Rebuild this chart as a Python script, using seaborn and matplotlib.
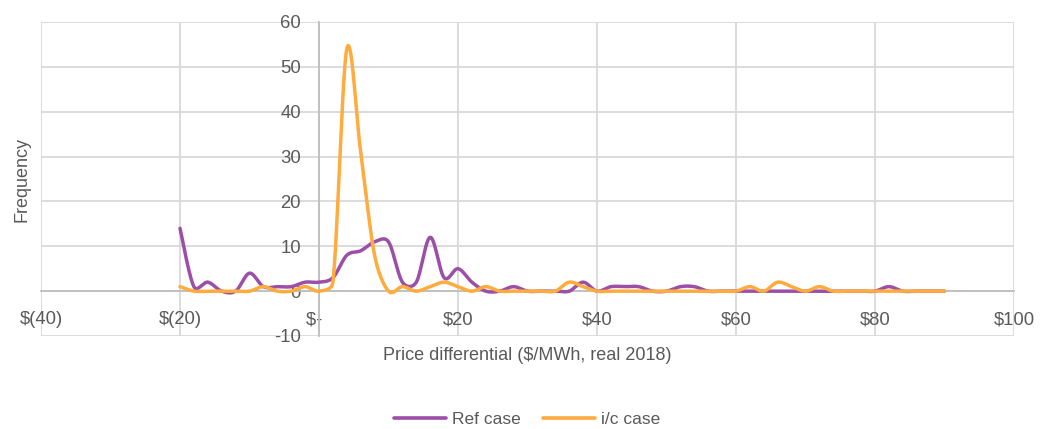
import numpy as np
import pandas as pd
import matplotlib
matplotlib.use("Agg")
import matplotlib.pyplot as plt
import seaborn as sns

# price differential bins ($/MWh)
price_bins = list(range(-20, 92, 2))

ref_case = [14, 1, 2, 0, 0, 4, 1, 1, 1, 2,
            2, 3, 8, 9, 11, 11, 2, 2, 12, 3,
            5, 2, 0, 0, 1, 0, 0, 0, 0, 2,
            0, 1, 1, 1, 0, 0, 1, 1, 0, 0,
            0, 0, 0, 0, 0, 0, 0, 0, 0, 0,
            0, 1, 0, 0, 0, 0]

ic_case = [1, 0, 0, 0, 0, 0, 1, 0, 0, 1,
           0, 2, 54, 31, 8, 0, 1, 0, 1, 2,
           1, 0, 1, 0, 0, 0, 0, 0, 2, 1,
           0, 0, 0, 0, 0, 0, 0, 0, 0, 0,
           0, 1, 0, 2, 1, 0, 1, 0, 0, 0,
           0, 0, 0, 0, 0, 0]

x_ticks = [-40, -20, 0, 20, 40, 60, 80, 100]
x_ticklabels = ["$(40)", "$(20)", "$-  ", "$20", "$40", "$60", "$80", "$100"]
y_ticks = [-10, 0, 10, 20, 30, 40, 50, 60]

series_names = ["Ref case", "i/c case"]
series_colors = ["#9B4FA7", "#FFAB3E"]
text_color = "#595959"

# screen scale (px per data unit) so the smoothing behaves like excel's
SX, SY = 973 / 140, 314 / 70


def smooth(x, y, n=24):
    # excel-like smoothed line: bezier through points, control arms
    # from neighbours (1/6) but kept short on short segments
    p = np.column_stack([np.asarray(x, float) * SX, np.asarray(y, float) * SY])
    pts = np.vstack([p[0], p, p[-1]])
    t = np.linspace(0, 1, n, endpoint=False)[:, None]
    out = []
    for i in range(1, len(pts) - 2):
        p0, p1, p2, p3 = pts[i - 1], pts[i], pts[i + 1], pts[i + 2]
        chord = np.linalg.norm(p2 - p1)
        d1 = (p2 - p0) / 6
        d2 = (p3 - p1) / 6
        for d in (d1, d2):
            ln = np.linalg.norm(d)
            if ln > 0.5 * chord and ln > 0:
                d *= 0.5 * chord / ln
        c1, c2 = p1 + d1, p2 - d2
        seg = ((1 - t) ** 3) * p1 + 3 * t * (1 - t) ** 2 * c1 + 3 * t ** 2 * (1 - t) * c2 + t ** 3 * p2
        out.append(seg)
    out.append(p[-1:])
    out = np.vstack(out)
    return out[:, 0] / SX, out[:, 1] / SY


sns.set_theme(style="white")
plt.rcParams["font.family"] = ["Liberation Sans", "DejaVu Sans"]
plt.rcParams["text.color"] = text_color
plt.rcParams["xtick.color"] = text_color
plt.rcParams["ytick.color"] = text_color
plt.rcParams["axes.unicode_minus"] = False

fig = plt.figure(figsize=(10.5, 4.29), dpi=100)
ax = fig.add_axes([41 / 1050, 1 - 336 / 429, 973 / 1050, 314 / 429])

frames = []
for name, vals in zip(series_names, [ref_case, ic_case]):
    sx, sy = smooth(price_bins, vals)
    frames.append(pd.DataFrame({"price": sx, "freq": sy, "case": name}))
df = pd.concat(frames, ignore_index=True)

sns.lineplot(data=df, x="price", y="freq", hue="case", palette=series_colors,
             sort=False, estimator=None, linewidth=2.5, ax=ax, legend=False, zorder=4)

ax.set_xlim(-40, 100)
ax.set_ylim(-10, 60)
ax.set_xticks(x_ticks)
ax.set_xticklabels(x_ticklabels)
ax.set_yticks(y_ticks)
ax.grid(True, color="#d9d9d9", linewidth=1.3)
ax.set_axisbelow(True)

for s in ["top", "right"]:
    ax.spines[s].set_visible(False)
for s in ["left", "bottom"]:
    ax.spines[s].set_position(("data", 0))
    ax.spines[s].set_color("#bfbfbf")
    ax.spines[s].set_linewidth(1.3)
    ax.spines[s].set_zorder(3)

ax.tick_params(axis="both", length=0, labelsize=13.3)
ax.tick_params(axis="y", pad=13)
ax.tick_params(axis="x", pad=14.5)

ax.set_xlabel("")
ax.set_ylabel("")
ax.text(0.5, -0.062, "Price differential ($/MWh, real 2018)", transform=ax.transAxes,
        ha="center", va="center", fontsize=13, color=text_color)
fig.text(22 / 1050, 1 - 180 / 429, "Frequency", rotation=90, ha="center", va="center",
         fontsize=13, color=text_color)

handles = [plt.Line2D([], [], color=c, linewidth=2.6) for c in series_colors]
fig.legend(handles, series_names, loc="center", bbox_to_anchor=(0.502, 1 - 419 / 429),
           ncol=2, frameon=False, fontsize=12.5, handlelength=3.0,
           handletextpad=0.35, columnspacing=1.3)

fig.savefig("out.png", dpi=100)
